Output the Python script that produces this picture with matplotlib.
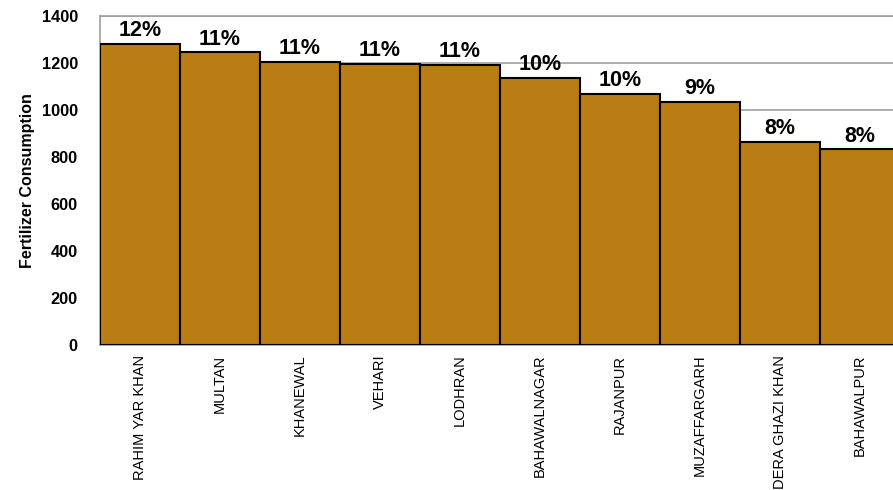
import matplotlib.pyplot as plt

districts = ['RAHIM YAR KHAN', 'MULTAN', 'KHANEWAL', 'VEHARI', 'LODHRAN',
             'BAHAWALNAGAR', 'RAJANPUR', 'MUZAFFARGARH', 'DERA GHAZI KHAN', 'BAHAWALPUR']
consumption = [1282, 1245, 1206, 1196, 1191, 1136, 1068, 1035, 864, 832]
shares = ['12%', '11%', '11%', '11%', '11%', '10%', '10%', '9%', '8%', '8%']

plt.rcParams['font.family'] = ['Liberation Sans', 'DejaVu Sans']

fig = plt.figure(figsize=(8.93, 4.9), dpi=100)
ax = fig.add_axes([100/893, 145/490, 800/893, 329/490])

x = range(len(districts))
ax.bar(x, consumption, width=1.0, color='#B97D13', edgecolor='black', linewidth=1.5, zorder=3)
for i, v in enumerate(consumption):
    ax.text(i, v + 12, shares[i], ha='center', va='bottom', fontsize=15.5, fontweight='bold', zorder=4)

ax.set_xlim(-0.5, 9.5)
ax.set_ylim(0, 1400)
ax.set_yticks(range(0, 1401, 200))
ax.set_xticks(list(x))
ax.set_xticklabels(districts, rotation=90, fontsize=10.5)
ax.tick_params(axis='both', length=0)
ax.tick_params(axis='x', pad=7)
ax.tick_params(axis='y', pad=16)
for lab in ax.get_yticklabels():
    lab.set_fontweight('bold')
    lab.set_fontsize(11.8)
ax.yaxis.grid(True, color='#A0A0A0', linewidth=1.2, zorder=0)
for s in ax.spines.values():
    s.set_color('#A0A0A0')
    s.set_linewidth(1.2)
ax.set_ylabel('Fertilizer Consumption', fontsize=11.5, fontweight='bold', labelpad=5)

plt.savefig('out.png', dpi=100)
